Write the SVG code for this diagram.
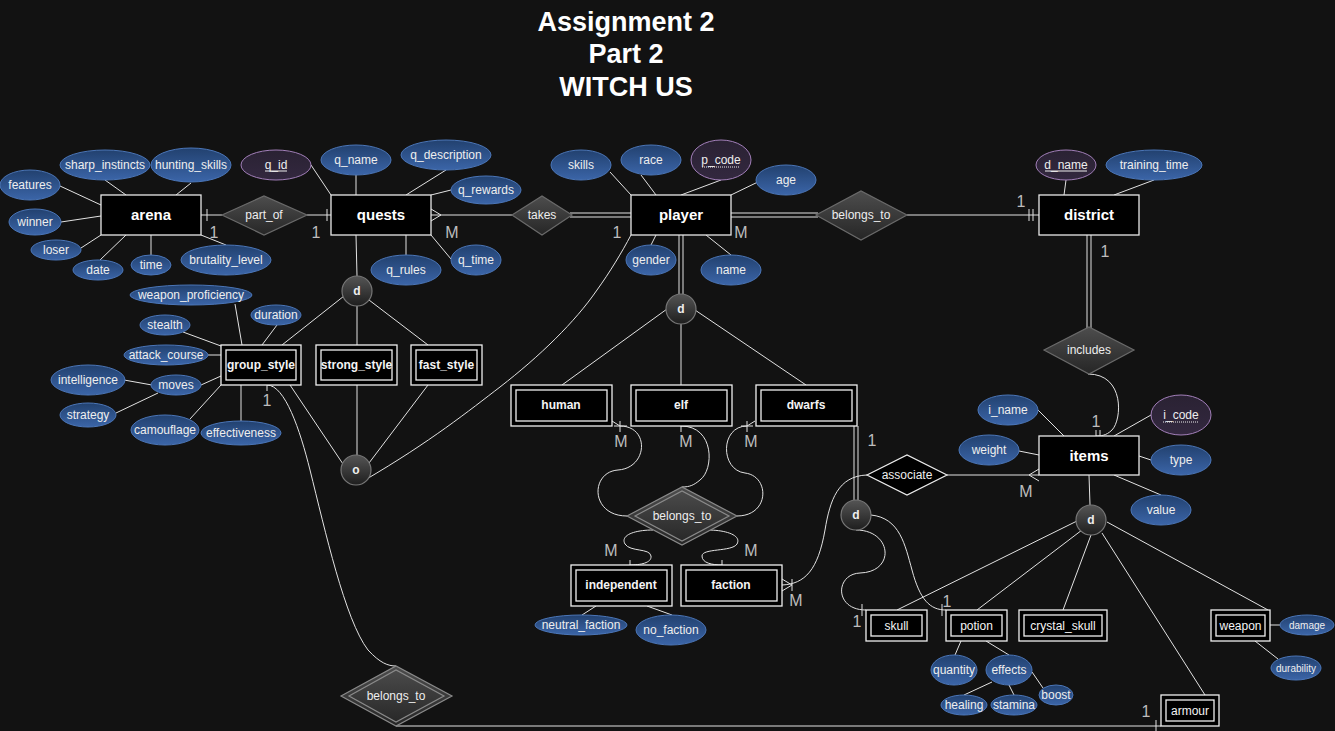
<svg xmlns="http://www.w3.org/2000/svg" width="1335" height="731" viewBox="0 0 1335 731">
<defs>
<linearGradient id="ga" x1="0" y1="0" x2="0" y2="1"><stop offset="0" stop-color="#22416f"/><stop offset="1" stop-color="#3b65a8"/></linearGradient>
<linearGradient id="gk" x1="0" y1="0" x2="0" y2="1"><stop offset="0" stop-color="#2a2233"/><stop offset="1" stop-color="#33283f"/></linearGradient>
<linearGradient id="gr" x1="0" y1="0" x2="0" y2="1"><stop offset="0" stop-color="#4d4d4d"/><stop offset="1" stop-color="#262626"/></linearGradient>
<linearGradient id="gc" x1="0" y1="0" x2="0" y2="1"><stop offset="0" stop-color="#555"/><stop offset="1" stop-color="#1e1e1e"/></linearGradient>
</defs>
<style>
text{font-family:"Liberation Sans",Arial,sans-serif;fill:#eeeeee;text-anchor:middle}
.t{font-size:27px;font-weight:bold;fill:#fff}
.a ellipse{fill:url(#ga);stroke:#4b76b8;stroke-width:1}
.a text{font-size:12px}
.k ellipse{fill:url(#gk);stroke:#a27fb9;stroke-width:1}
.k text{font-size:12px}
.e rect{fill:#000;stroke:#e8e8e8;stroke-width:1.3}
.e text{font-size:15px;font-weight:bold;fill:#fff}
.w rect{fill:#000;stroke:#f0f0f0;stroke-width:1.3}
.w text{font-size:12px;font-weight:bold;fill:#f4f4f4}
.r polygon{fill:url(#gr);stroke:#6a6a6a;stroke-width:1.2}
.r text{font-size:12px}
.rr polygon{fill:url(#gr);stroke:#8a8a8a;stroke-width:1.2}
.c circle{fill:url(#gc);stroke:#777;stroke-width:1.2}
.c text{font-size:12px;font-weight:bold}
#conn path,#conn line{stroke:#e2e2e2;stroke-width:1;fill:none}
.lb{font-size:16px;fill:#bdbdbd}
</style>
<rect width="1335" height="731" fill="#121212"/>

<g id="title">
<text class="t" x="626" y="31">Assignment 2</text>
<text class="t" x="626" y="63">Part 2</text>
<text class="t" x="626" y="96">WITCH US</text>
</g>

<g id="conn">
<line x1="105" y1="180" x2="126" y2="195"/>
<line x1="191" y1="183" x2="176" y2="195"/>
<line x1="60" y1="186" x2="101" y2="205"/>
<line x1="61" y1="222" x2="101" y2="216"/>
<line x1="81" y1="248" x2="101" y2="235"/>
<line x1="100" y1="260" x2="126" y2="235"/>
<line x1="151" y1="255" x2="151" y2="235"/>
<line x1="226" y1="245" x2="201" y2="235"/>
<line x1="311" y1="165" x2="331" y2="195"/>
<line x1="356" y1="175" x2="356" y2="195"/>
<line x1="446" y1="170" x2="406" y2="195"/>
<line x1="451" y1="190" x2="431" y2="195"/>
<line x1="406" y1="255" x2="406" y2="235"/>
<line x1="451" y1="259" x2="431" y2="235"/>
<line x1="610" y1="172" x2="631" y2="195"/>
<line x1="641" y1="175" x2="656" y2="195"/>
<line x1="721" y1="180" x2="681" y2="195"/>
<line x1="762" y1="180" x2="731" y2="195"/>
<line x1="651" y1="245" x2="656" y2="235"/>
<line x1="731" y1="255" x2="706" y2="235"/>
<line x1="1066" y1="180" x2="1064" y2="195"/>
<line x1="1154" y1="180" x2="1114" y2="195"/>
<line x1="1038" y1="410" x2="1064" y2="436"/>
<line x1="1019" y1="451" x2="1039" y2="455"/>
<line x1="1151" y1="415" x2="1114" y2="436"/>
<line x1="1151" y1="460" x2="1139" y2="456"/>
<line x1="1161" y1="495" x2="1114" y2="475"/>
<line x1="201" y1="215" x2="222" y2="215"/>
<line x1="207" y1="209" x2="207" y2="221"/>
<line x1="307" y1="215" x2="331" y2="215"/>
<line x1="327" y1="209" x2="327" y2="221"/>
<line x1="431" y1="215" x2="512" y2="215"/>
<line x1="441" y1="215" x2="431" y2="209"/>
<line x1="441" y1="215" x2="431" y2="221"/>
<line x1="570" y1="213" x2="631" y2="213"/>
<line x1="570" y1="217" x2="631" y2="217"/>
<line x1="731" y1="213" x2="818" y2="213"/>
<line x1="731" y1="217" x2="818" y2="217"/>
<line x1="907" y1="215" x2="1039" y2="215"/>
<line x1="1029" y1="209" x2="1029" y2="221"/>
<line x1="1033" y1="209" x2="1033" y2="221"/>
<line x1="1087" y1="235" x2="1087" y2="328"/>
<line x1="1091" y1="235" x2="1091" y2="328"/>
<path d="M1088,374 C1125,374 1122,420 1112,430 C1106,436 1100,436 1096,436"/>
<line x1="1096" y1="430" x2="1096" y2="442"/>
<line x1="1100" y1="430" x2="1100" y2="442"/>
<line x1="947" y1="475" x2="1039" y2="475"/>
<line x1="1029" y1="475" x2="1039" y2="469"/>
<line x1="1029" y1="475" x2="1039" y2="481"/>
<path d="M867,475 C838,476 830,500 825,530 C818,570 805,584 782,585"/>
<line x1="792" y1="585" x2="782" y2="579"/>
<line x1="792" y1="585" x2="782" y2="591"/>
<line x1="792" y1="579" x2="792" y2="591"/>
<line x1="854" y1="426" x2="854" y2="500"/>
<line x1="858" y1="426" x2="858" y2="500"/>
<path d="M856,530 C892,530 896,572 860,573 C835,574 834,610 866,610"/>
<line x1="862" y1="604" x2="862" y2="616"/>
<path d="M871,515 C900,518 905,545 912,570 C920,600 930,610 946,610"/>
<line x1="942" y1="604" x2="942" y2="616"/>
<line x1="679" y1="235" x2="679" y2="294"/>
<line x1="683" y1="235" x2="683" y2="294"/>
<line x1="667" y1="309" x2="562" y2="385"/>
<line x1="681" y1="324" x2="681" y2="385"/>
<line x1="695" y1="310" x2="806" y2="385"/>
<path d="M620,426 C650,426 648,468 618,470 C590,472 590,516 627,516"/>
<line x1="612" y1="421" x2="620" y2="426"/>
<line x1="620" y1="421" x2="620" y2="432"/>
<line x1="614" y1="426" x2="627" y2="426"/>
<path d="M681,426 C715,426 714,470 700,480 C694,485 690,487 682,487"/>
<line x1="673" y1="421" x2="681" y2="426"/>
<line x1="689" y1="421" x2="681" y2="426"/>
<line x1="681" y1="421" x2="681" y2="432"/>
<path d="M747,426 C720,426 720,470 745,473 C770,476 770,516 737,516"/>
<line x1="755" y1="421" x2="747" y2="426"/>
<line x1="747" y1="421" x2="747" y2="432"/>
<line x1="741" y1="426" x2="753" y2="426"/>
<path d="M653,530 C635,530 620,535 625,544 C630,552 650,548 651,556 C652,563 640,565 630,565"/>
<line x1="622" y1="570" x2="630" y2="565"/>
<line x1="638" y1="570" x2="630" y2="565"/>
<line x1="630" y1="560" x2="630" y2="570"/>
<path d="M708,530 C725,530 742,535 737,544 C732,552 702,548 702,556 C702,563 712,565 722,565"/>
<line x1="714" y1="570" x2="722" y2="565"/>
<line x1="730" y1="570" x2="722" y2="565"/>
<line x1="722" y1="560" x2="722" y2="570"/>
<line x1="596" y1="606" x2="582" y2="615"/>
<line x1="647" y1="606" x2="672" y2="615"/>
<line x1="356" y1="235" x2="357" y2="276"/>
<line x1="282" y1="345" x2="344" y2="296"/>
<line x1="357" y1="306" x2="357" y2="345"/>
<line x1="369" y1="300" x2="428" y2="345"/>
<line x1="290" y1="385" x2="343" y2="464"/>
<line x1="357" y1="385" x2="357" y2="455"/>
<line x1="428" y1="385" x2="369" y2="463"/>
<path d="M365,480 C430,442 470,410 500,387 C540,356 575,322 597,290 C610,272 622,252 631,235"/>
<line x1="235" y1="304" x2="242" y2="345"/>
<line x1="277" y1="325" x2="262" y2="345"/>
<line x1="183" y1="332" x2="221" y2="346"/>
<line x1="208" y1="355" x2="221" y2="355"/>
<line x1="201" y1="385" x2="221" y2="376"/>
<line x1="190" y1="419" x2="221" y2="385"/>
<line x1="241" y1="421" x2="241" y2="385"/>
<line x1="124" y1="380" x2="152" y2="385"/>
<line x1="116" y1="413" x2="158" y2="393"/>
<path d="M267,385 C285,385 300,430 310,470 C325,530 345,620 368,650 C380,663 388,666 396,666"/>
<line x1="267" y1="380" x2="267" y2="391"/>
<line x1="396" y1="726" x2="1161" y2="726"/>
<line x1="1156" y1="720" x2="1156" y2="731"/>
<line x1="1089" y1="475" x2="1090" y2="505"/>
<line x1="1077" y1="521" x2="897" y2="610"/>
<line x1="1082" y1="530" x2="977" y2="610"/>
<line x1="1091" y1="535" x2="1063" y2="610"/>
<line x1="1102" y1="533" x2="1205" y2="695"/>
<line x1="1107" y1="522" x2="1268" y2="610"/>
<line x1="1270" y1="625" x2="1281" y2="625"/>
<line x1="1255" y1="641" x2="1278" y2="659"/>
<line x1="961" y1="641" x2="955" y2="655"/>
<line x1="986" y1="641" x2="1009" y2="655"/>
<line x1="992" y1="682" x2="964" y2="695"/>
<line x1="1009" y1="685" x2="1014" y2="695"/>
<line x1="1032" y1="672" x2="1043" y2="688"/>
</g>

<g id="labels">
<text class="lb" x="214" y="238">1</text>
<text class="lb" x="316" y="238">1</text>
<text class="lb" x="452" y="238">M</text>
<text class="lb" x="617" y="238">1</text>
<text class="lb" x="741" y="238">M</text>
<text class="lb" x="1021" y="207">1</text>
<text class="lb" x="1105" y="257">1</text>
<text class="lb" x="1096" y="427">1</text>
<text class="lb" x="1026" y="497">M</text>
<text class="lb" x="872" y="446">1</text>
<text class="lb" x="621" y="447">M</text>
<text class="lb" x="686" y="447">M</text>
<text class="lb" x="751" y="447">M</text>
<text class="lb" x="611" y="556">M</text>
<text class="lb" x="751" y="556">M</text>
<text class="lb" x="796" y="606">M</text>
<text class="lb" x="857" y="627">1</text>
<text class="lb" x="947" y="607">1</text>
<text class="lb" x="267" y="406">1</text>
<text class="lb" x="1146" y="717">1</text>
</g>

<g id="a-sharp_instincts" class="a"><ellipse cx="105" cy="165" rx="45" ry="15"/><text x="105" y="169">sharp_instincts</text></g>
<g id="a-hunting_skills" class="a"><ellipse cx="191" cy="165" rx="40" ry="17"/><text x="191" y="169">hunting_skills</text></g>
<g id="a-features" class="a"><ellipse cx="30" cy="185" rx="30" ry="15"/><text x="30" y="189">features</text></g>
<g id="a-winner" class="a"><ellipse cx="35" cy="222" rx="26" ry="13"/><text x="35" y="226">winner</text></g>
<g id="a-loser" class="a"><ellipse cx="56" cy="250" rx="25" ry="10"/><text x="56" y="254">loser</text></g>
<g id="a-date" class="a"><ellipse cx="98" cy="270" rx="25" ry="10"/><text x="98" y="274">date</text></g>
<g id="a-time" class="a"><ellipse cx="151" cy="265" rx="20" ry="10"/><text x="151" y="269">time</text></g>
<g id="a-brutality_level" class="a"><ellipse cx="226" cy="260" rx="45" ry="15"/><text x="226" y="264">brutality_level</text></g>
<g id="a-q_id" class="k"><ellipse cx="276" cy="165" rx="35" ry="15"/><text x="276" y="169">q_id</text><line x1="265" y1="171" x2="287" y2="171" stroke="#eee" stroke-width="1"/></g>
<g id="a-q_name" class="a"><ellipse cx="356" cy="160" rx="35" ry="15"/><text x="356" y="164">q_name</text></g>
<g id="a-q_description" class="a"><ellipse cx="446" cy="155" rx="45" ry="15"/><text x="446" y="159">q_description</text></g>
<g id="a-q_rewards" class="a"><ellipse cx="486" cy="190" rx="35" ry="14"/><text x="486" y="194">q_rewards</text></g>
<g id="a-q_rules" class="a"><ellipse cx="406" cy="270" rx="35" ry="15"/><text x="406" y="274">q_rules</text></g>
<g id="a-q_time" class="a"><ellipse cx="476" cy="260" rx="25" ry="15"/><text x="476" y="264">q_time</text></g>
<g id="a-skills" class="a"><ellipse cx="581" cy="165" rx="30" ry="15"/><text x="581" y="169">skills</text></g>
<g id="a-race" class="a"><ellipse cx="651" cy="160" rx="30" ry="15"/><text x="651" y="164">race</text></g>
<g id="a-p_code" class="k"><ellipse cx="721" cy="160" rx="30" ry="20"/><text x="721" y="164">p_code</text><line x1="702" y1="167" x2="740" y2="167" stroke="#eee" stroke-width="1" stroke-dasharray="1,1"/></g>
<g id="a-age" class="a"><ellipse cx="786" cy="180" rx="30" ry="15"/><text x="786" y="184">age</text></g>
<g id="a-gender" class="a"><ellipse cx="651" cy="260" rx="25" ry="15"/><text x="651" y="264">gender</text></g>
<g id="a-name" class="a"><ellipse cx="731" cy="270" rx="30" ry="15"/><text x="731" y="274">name</text></g>
<g id="a-d_name" class="k"><ellipse cx="1066" cy="165" rx="30" ry="15"/><text x="1066" y="169">d_name</text><line x1="1045" y1="171" x2="1087" y2="171" stroke="#eee" stroke-width="1"/></g>
<g id="a-training_time" class="a"><ellipse cx="1154" cy="165" rx="48" ry="15"/><text x="1154" y="169">training_time</text></g>
<g id="a-i_name" class="a"><ellipse cx="1008" cy="410" rx="30" ry="15"/><text x="1008" y="414">i_name</text></g>
<g id="a-weight" class="a"><ellipse cx="989" cy="450" rx="30" ry="15"/><text x="989" y="454">weight</text></g>
<g id="a-i_code" class="k"><ellipse cx="1181" cy="415" rx="30" ry="20"/><text x="1181" y="419">i_code</text><line x1="1163" y1="422" x2="1199" y2="422" stroke="#eee" stroke-width="1" stroke-dasharray="1,1"/></g>
<g id="a-type" class="a"><ellipse cx="1181" cy="460" rx="30" ry="15"/><text x="1181" y="464">type</text></g>
<g id="a-value" class="a"><ellipse cx="1161" cy="510" rx="30" ry="15"/><text x="1161" y="514">value</text></g>
<g id="a-weapon_proficiency" class="a"><ellipse cx="191" cy="295" rx="61" ry="10"/><text x="191" y="299">weapon_proficiency</text></g>
<g id="a-duration" class="a"><ellipse cx="276" cy="315" rx="25" ry="10"/><text x="276" y="319">duration</text></g>
<g id="a-stealth" class="a"><ellipse cx="165" cy="325" rx="25" ry="10"/><text x="165" y="329">stealth</text></g>
<g id="a-attack_course" class="a"><ellipse cx="166" cy="355" rx="42" ry="10"/><text x="166" y="359">attack_course</text></g>
<g id="a-intelligence" class="a"><ellipse cx="88" cy="380" rx="37" ry="15"/><text x="88" y="384">intelligence</text></g>
<g id="a-moves" class="a"><ellipse cx="176" cy="385" rx="25" ry="10"/><text x="176" y="389">moves</text></g>
<g id="a-strategy" class="a"><ellipse cx="88" cy="415" rx="28" ry="12"/><text x="88" y="419">strategy</text></g>
<g id="a-camouflage" class="a"><ellipse cx="165" cy="430" rx="34" ry="15"/><text x="165" y="434">camouflage</text></g>
<g id="a-effectiveness" class="a"><ellipse cx="241" cy="433" rx="40" ry="12"/><text x="241" y="437">effectiveness</text></g>
<g id="a-neutral_faction" class="a"><ellipse cx="581" cy="625" rx="46" ry="10"/><text x="581" y="629">neutral_faction</text></g>
<g id="a-no_faction" class="a"><ellipse cx="671" cy="630" rx="35" ry="15"/><text x="671" y="634">no_faction</text></g>
<g id="a-quantity" class="a"><ellipse cx="954" cy="670" rx="23" ry="15"/><text x="954" y="674">quantity</text></g>
<g id="a-effects" class="a"><ellipse cx="1009" cy="670" rx="23" ry="15"/><text x="1009" y="674">effects</text></g>
<g id="a-healing" class="a"><ellipse cx="964" cy="705" rx="23" ry="10"/><text x="964" y="709">healing</text></g>
<g id="a-stamina" class="a"><ellipse cx="1014" cy="705" rx="23" ry="10"/><text x="1014" y="709">stamina</text></g>
<g id="a-boost" class="a"><ellipse cx="1056" cy="695" rx="17" ry="10"/><text x="1056" y="699">boost</text></g>
<g id="a-damage" class="a"><ellipse cx="1307" cy="625" rx="27" ry="10"/><text x="1307" y="629" style="font-size:10px">damage</text></g>
<g id="a-durability" class="a"><ellipse cx="1296" cy="668" rx="25" ry="12"/><text x="1296" y="672" style="font-size:10px">durability</text></g>

<g id="arena" class="e"><rect x="101" y="195" width="100" height="40"/><text x="151" y="220">arena</text></g>
<g id="quests" class="e"><rect x="331" y="195" width="100" height="40"/><text x="381" y="220">quests</text></g>
<g id="player" class="e"><rect x="631" y="195" width="100" height="40"/><text x="681" y="220">player</text></g>
<g id="district" class="e"><rect x="1039" y="195" width="100" height="40"/><text x="1089" y="220">district</text></g>
<g id="items" class="e"><rect x="1039" y="436" width="100" height="39"/><text x="1089" y="461">items</text></g>

<g id="group_style" class="w"><rect x="221" y="345" width="80" height="40"/><rect x="226" y="350" width="70" height="30"/><text x="261" y="369">group_style</text></g>
<g id="strong_style" class="w"><rect x="316" y="345" width="81" height="40"/><rect x="321" y="350" width="71" height="30"/><text x="356.5" y="369">strong_style</text></g>
<g id="fast_style" class="w"><rect x="411" y="345" width="71" height="40"/><rect x="416" y="350" width="61" height="30"/><text x="446.5" y="369">fast_style</text></g>
<g id="human" class="w"><rect x="511" y="385" width="101" height="41"/><rect x="516" y="390" width="91" height="31"/><text x="561" y="409">human</text></g>
<g id="elf" class="w"><rect x="631" y="385" width="101" height="41"/><rect x="636" y="390" width="91" height="31"/><text x="681" y="409">elf</text></g>
<g id="dwarfs" class="w"><rect x="756" y="385" width="101" height="41"/><rect x="761" y="390" width="91" height="31"/><text x="806" y="409">dwarfs</text></g>
<g id="independent" class="w"><rect x="571" y="565" width="101" height="41"/><rect x="576" y="570" width="91" height="31"/><text x="621" y="589">independent</text></g>
<g id="faction" class="w"><rect x="681" y="565" width="101" height="41"/><rect x="686" y="570" width="91" height="31"/><text x="731" y="589">faction</text></g>
<g id="skull" class="w"><rect x="866" y="610" width="61" height="31"/><rect x="871" y="615" width="51" height="21"/><text x="896.5" y="630" style="font-weight:normal">skull</text></g>
<g id="potion" class="w"><rect x="946" y="610" width="61" height="31"/><rect x="951" y="615" width="51" height="21"/><text x="976.5" y="630" style="font-weight:normal">potion</text></g>
<g id="crystal_skull" class="w"><rect x="1019" y="610" width="88" height="31"/><rect x="1024" y="615" width="78" height="21"/><text x="1063" y="630" style="font-weight:normal">crystal_skull</text></g>
<g id="weapon" class="w"><rect x="1211" y="610" width="59" height="31"/><rect x="1216" y="615" width="49" height="21"/><text x="1240.5" y="630" style="font-weight:normal">weapon</text></g>
<g id="armour" class="w"><rect x="1161" y="695" width="58" height="31"/><rect x="1166" y="700" width="48" height="21"/><text x="1190" y="715" style="font-weight:normal">armour</text></g>

<g id="part_of" class="r"><polygon points="222,215 264,196 307,215 264,235"/><text x="264" y="219">part_of</text></g>
<g id="takes" class="r"><polygon points="512,215 542,196 572,215 542,235"/><text x="542" y="219">takes</text></g>
<g id="belongs_to_district" class="r"><polygon points="816,215 861,191 907,215 861,240"/><text x="861" y="219">belongs_to</text></g>
<g id="includes" class="r"><polygon points="1044,350 1089,327 1134,350 1089,374"/><text x="1089" y="354">includes</text></g>
<g id="associate"><polygon points="867,475 907,455 947,475 907,495" fill="#000" stroke="#eee" stroke-width="1.2"/><text x="907" y="479" style="font-size:12px">associate</text></g>
<g id="belongs_to_race" class="rr"><polygon points="627,516 682,487 737,516 682,545"/><polygon points="635,516 682,491 729,516 682,541" style="fill:none"/><text x="682" y="520" style="font-size:12px">belongs_to</text></g>
<g id="belongs_to_armour" class="rr"><polygon points="341,696 396,666 452,696 396,726"/><polygon points="349,696 396,670 444,696 396,722" style="fill:none"/><text x="396" y="700" style="font-size:12px">belongs_to</text></g>

<g id="d_quests" class="c"><circle cx="357" cy="291" r="15"/><text x="357" y="295">d</text></g>
<g id="o_styles" class="c"><circle cx="356" cy="470" r="15"/><text x="356" y="474">o</text></g>
<g id="d_player" class="c"><circle cx="681" cy="309" r="15"/><text x="681" y="313">d</text></g>
<g id="d_dwarfs" class="c"><circle cx="856" cy="515" r="15"/><text x="856" y="519">d</text></g>
<g id="d_items" class="c"><circle cx="1091" cy="520" r="15"/><text x="1091" y="524">d</text></g>
</svg>
